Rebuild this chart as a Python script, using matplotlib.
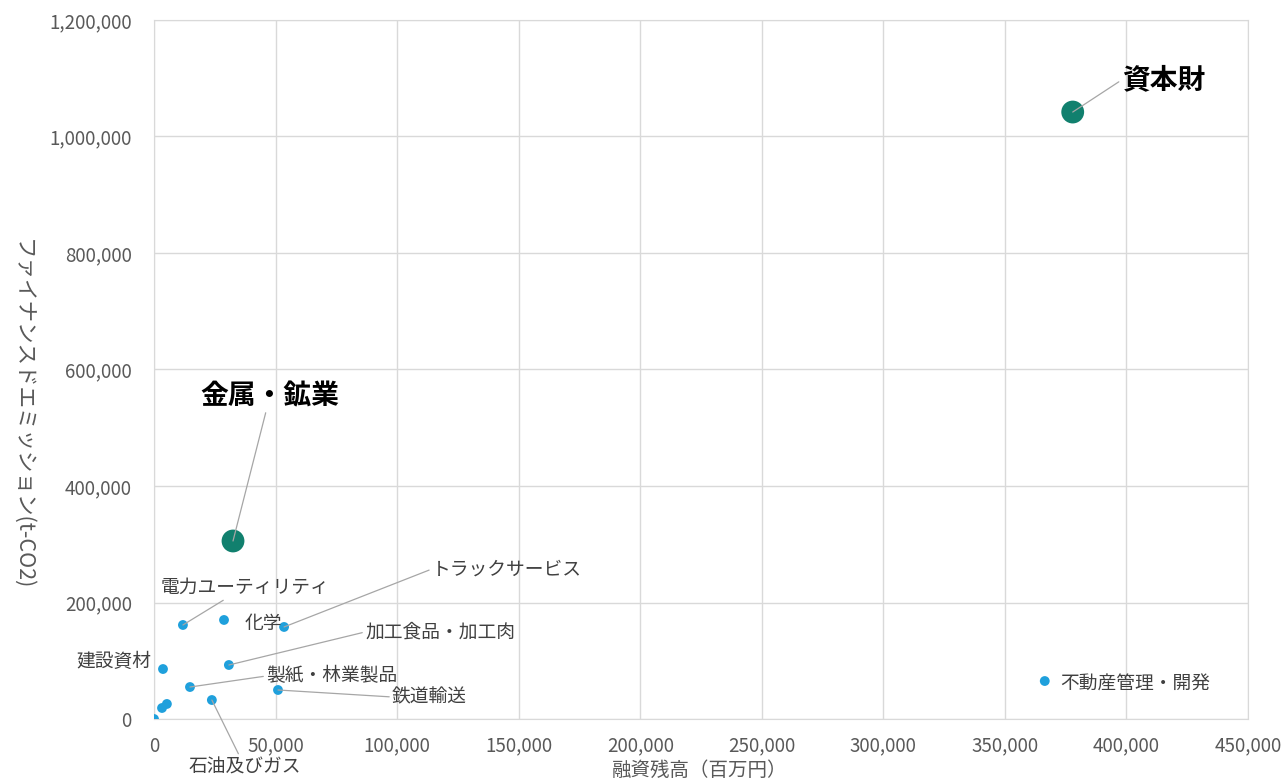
import matplotlib
matplotlib.use('Agg')
import matplotlib.pyplot as plt
from matplotlib.ticker import FuncFormatter

plt.rcParams['font.family'] = ['Noto Sans CJK JP', 'DejaVu Sans']

# 融資残高 (百万円), ファイナンスドエミッション (t-CO2)
names = ['資本財', '金属・鉱業', '不動産管理・開発', '電力ユーティリティ', '化学',
         'トラックサービス', '加工食品・加工肉', '建設資材', '製紙・林業製品',
         '鉄道輸送', '石油及びガス', '', '', '']
loans = [377900, 32500, 366400, 11900, 28800, 53500, 30800, 3700, 14800,
         51000, 23800, 3300, 5300, 0]
emissions = [1042000, 305600, 65200, 161400, 170000, 158000, 92700, 85800,
             54900, 49800, 32600, 18900, 25800, 0]
highlight = ['資本財', '金属・鉱業']

# label placement: (text x, text y, ha, leader line?)
label_pos = {
    '資本財': (398000, 1097000, 'left', True),
    '金属・鉱業': (47700, 554500, 'center', True),
    '不動産管理・開発': (372600, 60100, 'left', False),
    '電力ユーティリティ': (37400, 226600, 'center', True),
    '化学': (44800, 164800, 'center', False),
    'トラックサービス': (114300, 257500, 'left', True),
    '加工食品・加工肉': (86800, 149400, 'left', True),
    '建設資材': (-1200, 97900, 'right', False),
    '製紙・林業製品': (46100, 73800, 'left', True),
    '鉄道輸送': (97900, 37800, 'left', True),
    '石油及びガス': (37400, -82400, 'center', True),
}

teal = '#11806e'
blue = '#1fa0dc'
grid_c = '#d9d9d9'

fig = plt.figure(figsize=(12.83, 7.8), dpi=100)
ax = fig.add_axes([154 / 1283, 1 - 719 / 780, 1094 / 1283, 699 / 780])

for n, x, y in zip(names, loans, emissions):
    if n in highlight:
        ax.scatter(x, y, s=270, color=teal, zorder=3, edgecolors='none')
    else:
        ax.scatter(x, y, s=50, color=blue, zorder=3, edgecolors='none')

for n, x, y in zip(names, loans, emissions):
    if n not in label_pos:
        continue
    tx, ty, ha, leader = label_pos[n]
    bold = n in highlight
    relx = {'left': 0.0, 'center': 0.5, 'right': 1.0}[ha]
    props = None
    if leader:
        props = dict(arrowstyle='-', color='#a6a6a6', lw=0.9, relpos=(relx, 0.5),
                     shrinkA=0, shrinkB=0)
    ax.annotate(n, xy=(x, y), xytext=(tx, ty), ha=ha, va='center',
                fontsize=20 if bold else 13.5,
                fontweight='bold' if bold else 'normal',
                color='black' if bold else '#404040',
                arrowprops=props, annotation_clip=False, zorder=4)

ax.set_xlim(0, 450000)
ax.set_ylim(0, 1200000)
ax.set_xticks(range(0, 450001, 50000))
ax.set_yticks(range(0, 1200001, 200000))
fmt = FuncFormatter(lambda v, p: f'{int(v):,}')
ax.xaxis.set_major_formatter(fmt)
ax.yaxis.set_major_formatter(fmt)
ax.tick_params(length=0, labelsize=13.5, colors='#595959')
ax.tick_params(axis='y', pad=16)
ax.tick_params(axis='x', pad=12)
ax.grid(True, color=grid_c, lw=1)
ax.set_axisbelow(True)
for s in ax.spines.values():
    s.set_color(grid_c)

ax.set_xlabel('融資残高（百万円）', fontsize=14, color='#595959', va='center')
ax.xaxis.set_label_coords(0.499, -0.073)
ax.set_ylabel('ファイナンスドエミッション(t-CO2)', fontsize=15.5, color='#595959',
              rotation=270, va='center')
ax.yaxis.set_label_coords(-0.121, 0.435)

fig.savefig('out.png', dpi=100)
